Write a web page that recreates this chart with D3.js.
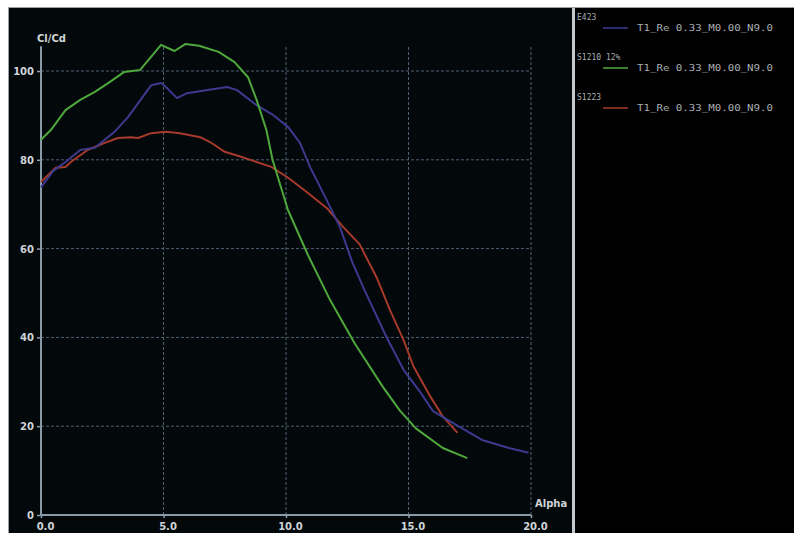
<!DOCTYPE html>
<html><head><meta charset="utf-8">
<script src="https://cdn.jsdelivr.net/npm/d3@7"></script>
<style>html,body{margin:0;padding:0;background:#fff;}svg{display:block;}</style>
</head><body>
<svg id="c" width="794" height="533"></svg>
<script>
const xTicks = [0, 5, 10, 15, 20];
const yTicks = [0, 20, 40, 60, 80, 100];
const seriesNames = ["E423", "S1210 12%", "S1223"];
const seriesSub = "T1_Re 0.33_M0.00_N9.0";
const seriesColors = ["#3c3a8e", "#4fa83c", "#a63a2c"];

const e423 = [[0,73.8],[0.5,77.5],[1.0,79.5],[1.6,82.2],[2.2,82.7],[3.0,86.3],[3.55,89.6],[4.5,96.8],[4.9,97.3],[5.1,96.4],[5.55,93.9],[5.96,95],[6.8,95.7],[7.6,96.4],[8.0,95.7],[8.8,92.3],[9.5,90],[10.1,87.3],[10.57,83.8],[10.98,78.4],[11.6,71.6],[12.2,64.9],[12.7,57],[13.2,50.7],[14.1,40.1],[14.8,32.7],[15.5,27.5],[16.0,23.4],[17.1,19.8],[18.0,16.9],[19.1,15.1],[19.9,14]];
const s1210 = [[0,84.5],[0.4,86.7],[1.0,91.2],[1.6,93.5],[2.2,95.3],[2.8,97.5],[3.4,99.8],[4.04,100.2],[4.9,105.9],[5.45,104.5],[5.9,106.1],[6.45,105.7],[7.25,104.3],[7.9,102],[8.45,98.6],[8.8,93.5],[9.2,86.7],[9.45,80],[10.08,68.7],[10.9,58.5],[11.8,48.4],[12.8,38.7],[13.96,28.8],[14.65,23.5],[15.3,19.5],[16.4,15.1],[17.4,12.8]];
const s1223 = [[0,75],[0.6,78.2],[1.0,78.4],[1.22,79.5],[1.9,82.2],[2.6,83.8],[3.14,84.9],[3.67,85.1],[3.96,84.9],[4.5,86],[5.1,86.3],[5.67,86],[6.5,85.1],[6.9,84],[7.5,81.8],[8.1,80.8],[8.8,79.5],[9.4,78.4],[10.1,75.9],[10.86,72.7],[11.67,69.1],[12.33,64.9],[13.0,61],[13.7,53.5],[14.24,46.2],[14.8,39.4],[15.2,33.5],[15.9,26.6],[16.4,22.2],[17.0,18.5]];
const series = [e423, s1210, s1223];

const svg = d3.select("#c");
// frame backgrounds
svg.append("rect").attr("x",8).attr("y",7).attr("width",786).attr("height",526).attr("fill","#03080b");
svg.append("line").attr("x1",8).attr("x2",794).attr("y1",7.5).attr("y2",7.5).attr("stroke","#9aa0a6").attr("stroke-width",1);
svg.append("line").attr("x1",8.5).attr("x2",8.5).attr("y1",7).attr("y2",533).attr("stroke","#9aa0a6").attr("stroke-width",1);
svg.append("rect").attr("x",575).attr("y",8).attr("width",219).attr("height",525).attr("fill","#000");
svg.append("rect").attr("x",572).attr("y",8).attr("width",3).attr("height",525).attr("fill","#c4c8cc");

const x = d3.scaleLinear().domain([0,20]).range([41,531]);
const y = d3.scaleLinear().domain([0,100]).range([515,71]);
const yTop = 105.6;

const grid = svg.append("g");
grid.selectAll("line.h").data(yTicks.filter(d=>d>0)).join("line")
  .attr("x1",x(0)).attr("x2",x(20)).attr("y1",d=>y(d)).attr("y2",d=>y(d))
  .attr("stroke","#4e6272").attr("stroke-width",1).attr("stroke-dasharray","3,2");
grid.selectAll("line.v").data(xTicks.filter(d=>d>0)).join("line")
  .attr("x1",d=>x(d)).attr("x2",d=>x(d)).attr("y1",y(0)).attr("y2",y(yTop))
  .attr("stroke","#4e6272").attr("stroke-width",1).attr("stroke-dasharray","3,2");

// axes
const axX = svg.append("g").attr("transform",`translate(0,${y(0)})`)
  .call(d3.axisBottom(x).tickValues(xTicks).tickFormat(d3.format(".1f")).tickSize(3).tickSizeOuter(0));
const axY = svg.append("g").attr("transform",`translate(${x(0)},0)`)
  .call(d3.axisLeft(y).tickValues(yTicks).tickSize(4).tickSizeOuter(0));
[axX, axY].forEach(a=>{
  a.select(".domain").remove();
  a.selectAll(".tick line").attr("stroke","#8fa0ad").attr("stroke-width",1.5);
  a.selectAll(".tick text").attr("fill","#cfd4d8").style("font-family","DejaVu Sans").style("font-size","10px").style("font-weight","bold");
});
axX.selectAll(".tick text").attr("dx",4).attr("dy","0.9em");
axY.selectAll(".tick text").attr("x",-7).attr("dy","0.35em");
svg.append("line").attr("x1",x(0)).attr("x2",x(0)).attr("y1",y(0)+1).attr("y2",y(yTop)).attr("stroke","#8a9ba8").attr("stroke-width",2);
svg.append("line").attr("x1",x(0)-1).attr("x2",x(20)).attr("y1",y(0)).attr("y2",y(0)).attr("stroke","#8a9ba8").attr("stroke-width",2);

svg.append("text").attr("x",37).attr("y",42).text("Cl/Cd").attr("fill","#cfd4d8")
  .style("font-family","DejaVu Sans").style("font-size","10px").style("font-weight","bold");
svg.append("text").attr("x",535).attr("y",507).text("Alpha").attr("fill","#cfd4d8")
  .style("font-family","DejaVu Sans").style("font-size","10px").style("font-weight","bold");

const line = d3.line().x(d=>x(d[0])).y(d=>y(d[1]));
const order = [2,0,1];
order.forEach(i=>{
  svg.append("path").datum(series[i]).attr("d",line).attr("fill","none")
    .attr("stroke",seriesColors[i]).attr("stroke-width",2).attr("stroke-linejoin","round");
});

// legend
const lg = svg.append("g");
seriesNames.forEach((n,i)=>{
  const y0 = 20 + i*40;
  lg.append("text").attr("x",577).attr("y",y0).text(n).attr("fill","#a8acb0")
    .style("font-family","DejaVu Sans Mono").style("font-size","8px");
  lg.append("line").attr("x1",603).attr("x2",628).attr("y1",y0+8).attr("y2",y0+8)
    .attr("stroke",seriesColors[i]).attr("stroke-width",1.5);
  lg.append("text").attr("x",637).attr("y",y0+11).text(seriesSub).attr("fill","#a8acb0")
    .attr("textLength",136).attr("lengthAdjust","spacingAndGlyphs")
    .style("font-family","DejaVu Sans Mono").style("font-size","8px");
});
</script>
</body></html>
